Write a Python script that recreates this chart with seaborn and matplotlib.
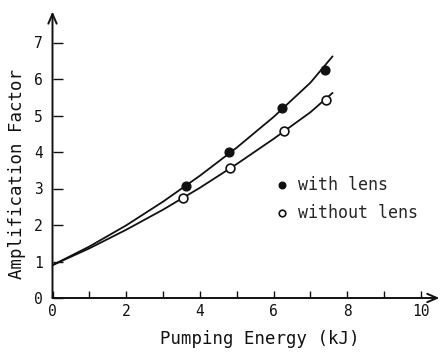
import matplotlib
matplotlib.use("Agg")
import matplotlib.pyplot as plt
import numpy as np
import pandas as pd
import seaborn as sns

# Measured amplification vs pumping energy
energy_with = [3.62, 4.78, 6.23, 7.40]
amp_with = [3.07, 4.00, 5.20, 6.25]
energy_without = [3.54, 4.82, 6.28, 7.42]
amp_without = [2.74, 3.55, 4.58, 5.42]

# Smooth trend curves through the measurements
curve_x = [0, 1, 2, 3, 4, 5, 6, 7, 7.6]
curve_with = [0.90, 1.41, 1.99, 2.64, 3.35, 4.12, 4.96, 5.90, 6.62]
curve_without = [0.90, 1.36, 1.87, 2.42, 3.02, 3.67, 4.36, 5.09, 5.62]

x_ticks = [0, 2, 4, 6, 8, 10]
y_ticks = [0, 1, 2, 3, 4, 5, 6, 7]

sns.set_style("ticks")
plt.rcParams["font.family"] = ["DejaVu Sans Mono", "DejaVu Sans"]
plt.rcParams["xtick.direction"] = "in"
plt.rcParams["ytick.direction"] = "in"

fig = plt.figure(figsize=(4.43, 3.55), dpi=100)
W, H = 443, 355
x0, y0 = 52.5, 298.0
ux, uy = 36.85, 36.5
xmax, ymax = 10.5, 7.85
ax = fig.add_axes([x0 / W, (H - y0) / H, xmax * ux / W, ymax * uy / H])

ink = "#111111"

curves = pd.concat([
    pd.DataFrame({"E": curve_x, "A": curve_with, "s": "with"}),
    pd.DataFrame({"E": curve_x, "A": curve_without, "s": "without"}),
])
sns.lineplot(data=curves, x="E", y="A", units="s", estimator=None,
             color=ink, lw=1.3, ax=ax, legend=False)

pts_with = pd.DataFrame({"E": energy_with, "A": amp_with})
pts_without = pd.DataFrame({"E": energy_without, "A": amp_without})
sns.scatterplot(data=pts_with, x="E", y="A", color=ink, s=40,
                edgecolor=ink, linewidth=1.0, zorder=3, ax=ax,
                label="with lens")
sns.scatterplot(data=pts_without, x="E", y="A", facecolor="white", s=40,
                edgecolor=ink, linewidth=1.2, zorder=3, ax=ax,
                label="without lens")

ax.set_xlim(0, xmax)
ax.set_ylim(0, ymax)
ax.set_xticks(x_ticks)
ax.set_xticks([1, 3, 5, 7, 9], minor=True)
ax.set_yticks(y_ticks)
ax.tick_params(axis="x", which="both", direction="in", length=5,
               width=1.0, color=ink, labelsize=10.5, labelcolor=ink, pad=4)
ax.tick_params(axis="y", direction="in", length=7, width=1.0,
               color=ink, labelsize=10.5, labelcolor=ink, pad=7)

for sp in ax.spines.values():
    sp.set_visible(False)

# Axes drawn as arrows
arrow = dict(arrowstyle="->,head_length=0.7,head_width=0.3", color=ink, lw=1.4,
             shrinkA=0, shrinkB=0)
ax.annotate("", xy=(1.0, 0), xytext=(0, 0), xycoords="axes fraction",
            arrowprops=arrow, annotation_clip=False)
ax.annotate("", xy=(0, 1.0), xytext=(0, 0), xycoords="axes fraction",
            arrowprops=arrow, annotation_clip=False)

ax.set_xlabel("Pumping Energy (kJ)", fontsize=12.5, color=ink)
ax.set_ylabel("Amplification Factor", fontsize=12.5, color=ink)
ax.xaxis.set_label_coords(0.536, -0.11)
ax.yaxis.set_label_coords(-0.068, 0.433)

ax.legend(loc="center left", bbox_to_anchor=(0.571, 0.347), frameon=False,
          fontsize=12, handletextpad=0.45, borderpad=0, borderaxespad=0,
          labelspacing=0.6, handlelength=1.0, markerscale=0.75)

fig.savefig("out.png", dpi=100)
